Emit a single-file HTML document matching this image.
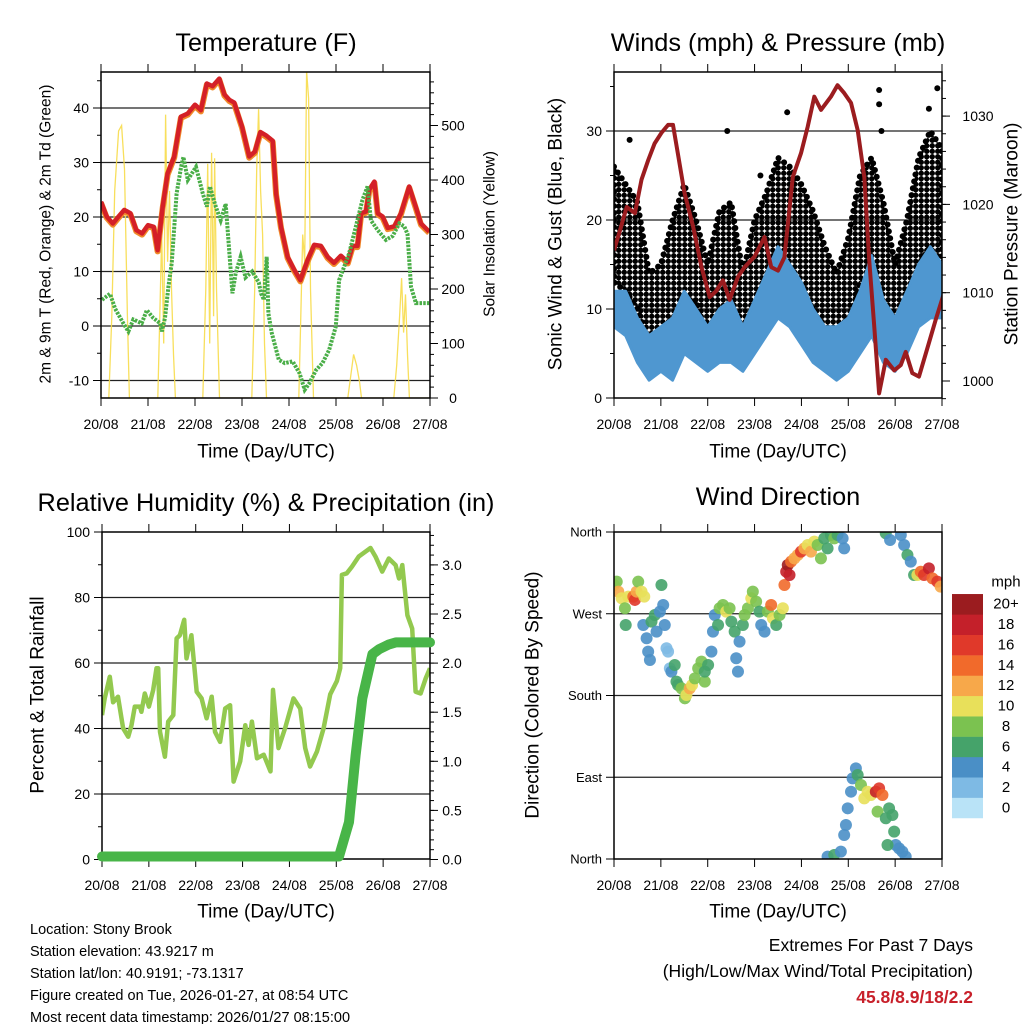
<!DOCTYPE html>
<html><head><meta charset="utf-8">
<style>
html,body{margin:0;padding:0;background:#fff;}
svg{display:block;font-family:"Liberation Sans",Arial,sans-serif;}
</style></head>
<body>
<svg id="chart" width="1024" height="1024" viewBox="0 0 1024 1024" xmlns="http://www.w3.org/2000/svg">
<defs>
<pattern id="dots" width="5.5" height="5.5" patternUnits="userSpaceOnUse">
<circle cx="2.75" cy="2.75" r="2.7" fill="#000"/>
</pattern>
</defs>
<g id="g"></g>
</svg>
<script>
// ---------- shared axis data ----------
const dayLabels = ["20/08","21/08","22/08","23/08","24/08","25/08","26/08","27/08"];
const dayHours = [0,24,48,72,96,120,144,168];

// ---------- Temperature panel ----------
const tempHours = [0,2.9,6,9,11.9,15,18,21,24,26.9,28.9,31.5,34,37.4,40.8,44.3,48,51,54,57,60.4,63,65.5,68,72,75.7,78.6,81.4,84.2,87.7,89.4,91.9,95.3,98.7,101.8,105.5,108.9,112.3,115.7,119,122.5,126,128.5,131,132.8,135.3,137,139.6,141.3,143.8,146.4,149.8,153.2,157.4,160.8,163.4,167.6];
const tempF = [22.8,20.1,18.8,20.1,21.3,20.7,17.6,17.0,18.5,18.2,13.9,21.9,28.0,31.1,38.4,39.0,40.6,39.6,44.5,44.0,45.4,42.5,41.5,41,36.6,31.1,32,35.6,35,34,24.3,18.2,12.7,10.3,8.4,12.1,14.9,14.7,12.7,11.6,12.9,11.7,14.7,14.7,20.7,21,25.0,26.5,20.7,20.1,18.0,18.3,20.7,25.6,21.8,18.8,17.3];
const dewHours = [0.5,4.6,7.2,11.4,14,16.5,20.8,23.4,26.6,30.2,31.1,32.7,34.4,36.1,38.6,40.9,42.1,44.3,48.5,52,54.1,55.6,58.5,61.1,63.7,67.1,68.8,71.3,73.8,77.2,80.6,81.7,83.2,84.6,85.5,87.2,90.8,93.8,97.9,101.4,104,106.4,109.8,113.1,116.5,119.9,121.6,124.2,126.7,130.1,133.5,136.1,137.8,141.3,145.5,148.9,152.3,154.8,156.5,158.3,160.8,167.6];
const dewF = [4.8,5.9,3.2,0.5,-1.0,1.2,0.5,2.9,1.5,0.5,-1.0,1.5,7.2,11.5,24.3,29.2,31.0,26.8,29.2,24.3,21.9,25.6,22.0,19.4,22.4,6.0,9.7,12.7,8.9,10,8.0,6.0,4.8,12.7,2.3,-1.3,-6.2,-6.8,-6.5,-8.7,-11.7,-10.5,-8.1,-6.8,-4.4,-0.1,8.4,10.9,13.3,18.2,23.1,25.6,19.4,17.6,15.8,16.5,18.8,18.3,16.9,7.2,4.2,4.2];
const solarHours = [0,4,5.5,7,9,10.5,12,13.5,14.5,29,30,31,32,33,34,35,36,37,38,52,53.5,54.5,55.5,56.5,57.5,58,59,60.5,77,78.5,79.5,80.5,81.5,82.5,83.5,84.5,101,102,103,104,105,106,107,108.5,126,127.5,129,130.5,132,133,149.5,151,152.5,153.5,154.5,155.5,156.5,157.5,168];
const solarW = [0,0,150,380,490,500,420,150,0,0,150,300,100,520,250,380,200,80,0,0,200,430,100,450,150,440,200,0,0,200,420,530,380,300,100,0,0,150,300,250,600,550,200,0,0,40,80,60,30,0,0,60,150,220,120,190,80,0,0];

// ---------- Winds panel ----------
const presHours = [0,3.1,6.5,10.7,14.1,17.5,20.8,24.3,27.7,30.2,32.7,36.1,40.5,44.8,49,52.4,55.8,59.2,63.5,66.9,72,77.1,80.5,84,87.3,91.6,95.8,99.2,102.6,106,111.1,114.5,117.9,121.4,124.8,128.2,130.7,133.3,135.8,139.2,143.5,146.9,149.4,152.8,156.2,161.3];
const presMb = [1014.8,1017.1,1019.7,1019,1022.8,1025,1026.9,1028.1,1029,1029,1025.8,1021.3,1017.5,1012.9,1009.5,1010.2,1011.4,1009.2,1011.8,1012.9,1014.1,1016.3,1012.9,1012.5,1014,1023.1,1025.8,1028.8,1032.2,1030.7,1032.2,1033.5,1032.6,1031.5,1028.4,1023.1,1013.7,1006.1,998.6,1002.4,1001.2,1001.8,1003.3,1000.9,1000.5,1004.3];
const presHours2 = [164.7,169.8];
const presMb2 = [1006.9,1010.5];
const windHours = [0,6,12,18,24,30,36,42,48,54,60,66,72,78,84,90,96,102,108,114,120,126,132,138,144,150,156,162,168];
const windLo = [8,7,4,2,3,2,5,4,3,4,4,3,5,7,9,8,6,4,3,2,3,5,7,4,3,5,8,9,9];
const windHi = [12,12,9,7,8,9,12,10,8,10,11,8,11,14,17,15,13,10,8,8,9,12,16,11,9,12,15,17,15];
const gustLo = [13,12,10,6,4,5,10,11,6,8,9,5,9,10,13,14,12,10,6,4,8,13,14,10,6,8,15,17,14];
const gustHi = [26,24,22,14,15,20,24,20,15,21,22,14,20,23,27,26,24,21,17,14,18,25,27,22,15,20,27,30,28];
const gustOutHours = [135.8,135.8,137,58,88.7,165.6,161.3,8,75];
const gustOutMph = [34.6,33.0,30,30,32.1,34.8,32.5,29,25];

// ---------- RH / precip panel ----------
const rhHours = [0,1.4,4.0,5.7,8.2,10.8,13.4,15.1,16.8,19.4,20.2,21.9,24.0,26.2,27.9,28.8,29.7,32.2,33.9,36.5,38.2,39.9,42.1,43.3,45.8,48.5,51,53.6,56.2,57.9,60.5,63.1,65.6,67.4,70.8,73.4,75.1,76.8,79.4,82.8,86.3,87.6,90.4,93.8,98.1,101.5,104.1,106.6,110.1,113.5,116.9,120.3,122.0,122.9,125.4,128,131.5,134.9,137.5,140.1,143.5,146.9,150.4,152.1,153.8,156.4,158.9,160.6,163.2,165.8,168];
const rhPct = [44.1,49.2,55.8,48,49.7,40.1,37.5,41,46.7,46.7,45.1,50.7,46.7,51.8,58.4,58.4,39,31.4,42.1,44.1,67.5,68.5,73.2,61.4,68.5,51.2,49.2,43.1,49.7,39,35.9,46.1,47.1,23.8,30,41,35,42.1,30.9,32,26.9,51.8,34,40.1,49.2,46.1,34,28.4,33,40.1,50.4,54.5,58.4,86.9,87.4,89.4,92.5,94,95.1,92.5,87.9,91.9,89.9,85.8,89.9,74.6,70.5,51.2,50.7,55.3,58.4];
const precipHours = [0,121.4,126.5,129.9,133.3,138.5,141.9,147,150.5,168];
const precipIn = [0,0,0.35,1.03,1.61,2.06,2.11,2.16,2.18,2.18];

// ---------- Wind direction panel ----------
const dirHours = [0,1.4,2.2,3.9,5.6,6.0,7.3,9.9,10.7,11.6,12.4,14.1,15.5,15.0,16.7,17.5,18.4,19.2,20.9,21.8,23.5,24.3,25.2,26.0,26.9,27.7,28.6,29.4,31.1,32.0,32.8,34.6,36.3,37.1,38.8,40.0,41.4,43.1,44.8,46.5,46.5,48.2,49.9,50.7,51.6,53.3,54.1,55.8,57.5,59.2,60.1,61.8,62.6,63.5,64.3,66.0,66.9,68.6,70.3,71.1,72.8,74.5,75.4,77.1,78.8,80.5,81.4,83.1,84.8,86.5,87.3,88.2,89.0,89.9,90.7,92.4,94.1,95.8,97.5,99.2,100.9,102.6,104.3,106.0,107.7,109.4,111.1,112.8,114.5,117.1,117.9,139.2,141.4,146.9,148.6,150.3,152.0,153.7,155.4,157.1,158.8,161.3,163.1,165.6,167.3,109.4,112.8,116.2,117.9,118.8,119.7,121.4,122.2,123.9,124.8,126.5,128.2,129.9,131.6,134.1,135.8,137.5,135.0,139.2,140.9,142.6,143.5,144.3,146.0,147.7,149.4,140.1];
const dirDeg = [301.7,305.3,294.3,287,276,257.6,288.8,288.8,285.2,294.3,305.3,294.3,288.8,257.6,243,228.3,219.1,261.3,268.6,250.3,272.3,301.7,279.7,257.6,232,228.3,209.9,206.3,213.6,195.3,191.6,187.9,176.9,180.6,187.9,191.6,198.9,209.9,217.3,195.3,206.3,213.6,228.3,250.3,268.6,257.6,276,279.7,272.3,276,261.3,250.3,221,206.3,239.3,257.6,268.6,276,287,294.3,283.3,272.3,257.6,250.3,272.3,279.7,265,257.6,268.6,276,301.7,316.3,323.7,312.7,327.4,331,334.7,338.4,342,345.7,338.4,349.4,345.7,331,353,342,356.7,353,356.7,353,342,358.6,351.2,356.7,345.7,334.7,327.4,312.7,312.7,316.3,312.7,320,309,305.3,299.8,2.6,4.4,8.1,26.4,37.4,55.8,74.1,88.8,99.8,92.5,81.5,66.8,74.1,70.5,74.1,77.8,70.5,52.1,44.8,55.8,48.4,30.1,15.4,11.7,8.1,2.6,15.4];
const dirSpeed = [10,8,12,10,8,6,10,14,16,12,8,10,10,4,4,4,4,6,6,4,4,6,4,4,2,2,2,4,6,6,6,8,8,10,12,10,8,8,8,8,6,6,4,4,4,6,8,8,10,8,6,6,4,4,4,6,8,8,10,8,8,6,4,4,8,14,10,6,8,10,14,18,20,18,14,12,12,16,12,10,12,10,8,8,6,6,6,8,6,4,4,6,4,4,4,6,4,6,10,14,16,18,14,16,12,4,6,4,4,4,4,4,4,4,6,8,10,10,10,18,16,14,8,6,6,6,6,4,4,4,4,6];
const speedLabels = ["0","2","4","6","8","10","12","14","16","18","20+"];
const speedColors = ["#b9e3f7","#7ebae4","#4a8fc6","#45a36a","#7bc250","#e8e05a","#f7a84a","#f16a2b","#e0392a","#c4202a","#9b1c1f"];

// ---------- helpers ----------
const NS = "http://www.w3.org/2000/svg";
const root = document.getElementById("g");
function mk(tag, attrs, parent) {
  const e = document.createElementNS(NS, tag);
  for (const k in attrs) e.setAttribute(k, attrs[k]);
  (parent || root).appendChild(e);
  return e;
}
function txt(s, x, y, size, anchor, parent, extra) {
  const a = {x:x, y:y, "font-size":size, "text-anchor":anchor||"middle", fill:"#000", "dominant-baseline":"central"};
  if (extra) for (const k in extra) a[k] = extra[k];
  const t = mk("text", a, parent);
  t.textContent = s;
  return t;
}
function lin(d0, d1, r0, r1) { return v => r0 + (v - d0) / (d1 - d0) * (r1 - r0); }
function pathFrom(xs, ys, sx, sy) {
  let d = "";
  for (let i = 0; i < xs.length; i++) d += (i ? "L" : "M") + sx(xs[i]).toFixed(1) + "," + sy(ys[i]).toFixed(1);
  return d;
}

function panel(name, P, sx, syL, left, syR, right) {
  const g = mk("g", {});
  
  
  const clipId = name + "-clip";
  const cp = mk("clipPath", {id: clipId}, g);
  mk("rect", {x:P.x0, y:P.y0, width:P.x1-P.x0, height:P.y1-P.y0}, cp);
  for (const v of left.grid) {
    const gl = mk("line", {x1:P.x0, x2:P.x1, y1:syL(v), y2:syL(v), stroke:"#222", "stroke-width":1.2}, g);
    
    
  }
  const plot = mk("g", {"clip-path":"url(#" + clipId + ")"}, g);
  
  
  for (const v of left.minor) mk("line", {x1:P.x0-4, x2:P.x0, y1:syL(v), y2:syL(v), stroke:"#000"}, g);
  for (let i = 0; i < left.major.length; i++) {
    const y = syL(left.major[i]);
    mk("line", {x1:P.x0-8, x2:P.x0, y1:y, y2:y, stroke:"#000"}, g);
    const t = txt(left.labels[i], P.x0 - 12, y, left.size || 14, "end", g);
    
    
  }
  if (right) {
    for (const v of right.minor) mk("line", {x1:P.x1, x2:P.x1+4, y1:syR(v), y2:syR(v), stroke:"#000"}, g);
    for (let i = 0; i < right.major.length; i++) {
      const y = syR(right.major[i]);
      mk("line", {x1:P.x1, x2:P.x1+8, y1:y, y2:y, stroke:"#000"}, g);
      const t = txt(right.labels[i], right.lx, y, 14, "middle", g);
      
      
    }
  }
  for (let i = 0; i < dayHours.length; i++) {
    const x = sx(dayHours[i]);
    mk("line", {x1:x, x2:x, y1:P.y0-8, y2:P.y0, stroke:"#000"}, g);
    mk("line", {x1:x, x2:x, y1:P.y1, y2:P.y1+8, stroke:"#000"}, g);
    const t = txt(dayLabels[i], x, P.y1 + 26, 14, "middle", g);
    
    
  }
  const fr = mk("rect", {x:P.x0, y:P.y0, width:P.x1-P.x0, height:P.y1-P.y0, fill:"none", stroke:"#000", "stroke-width":1.5}, g);
  
  
  return plot;
}
function range(a, b, s) { const r = []; for (let v = a; v <= b + 1e-9; v += s) r.push(+v.toFixed(3)); return r; }

// ================= Panel 1: Temperature =================
{
  const P = {x0:101, x1:430, y0:72, y1:398};
  const sx = lin(0, 168, P.x0, P.x1);
  const sy = lin(0, 10, 326, 271.5);
  const syR = lin(0, 100, 398, 343.5);
  const plot = panel("temperature-panel", P, sx, sy,
    {major:[-10,0,10,20,30,40], labels:["-10","0","10","20","30","40"], minor:range(-10,45,5), grid:[-10,0,10,20,30,40]},
    syR, {major:[0,100,200,300,400,500], labels:["0","100","200","300","400","500"], minor:range(0,580,20), lx:453});
  const sol = mk("path", {d:pathFrom(solarHours, solarW, sx, syR), fill:"none", stroke:"#f7dc4a", "stroke-width":1.3, opacity:0.9}, plot);
  
  
  const t9 = mk("path", {d:pathFrom(tempHours, tempF, sx, sy), fill:"none", stroke:"#f08a2a", "stroke-width":6, "stroke-linejoin":"round", transform:"translate(0,1.2)"}, plot);
  
  
  const t2 = mk("path", {d:pathFrom(tempHours, tempF, sx, sy), fill:"none", stroke:"#d42027", "stroke-width":4.5, "stroke-linejoin":"round"}, plot);
  
  
  const td = mk("path", {d:pathFrom(dewHours, dewF, sx, sy), fill:"none", stroke:"#4aae48", "stroke-width":4, "stroke-dasharray":"2.5 1.2"}, plot);
  
  
  let t = txt("Temperature (F)", 266, 43, 25.3);
  
  
  t = txt("Time (Day/UTC)", 266, 452, 19);
  
  
  t = txt("2m & 9m T (Red, Orange) & 2m Td (Green)", 0, 0, 15.5, "middle", null, {transform:"translate(46,234) rotate(-90)"});
  
  
  t = txt("Solar Insolation (Yellow)", 0, 0, 15.5, "middle", null, {transform:"translate(490,234) rotate(-90)"});
  
  
}

// ================= Panel 2: Winds & Pressure =================
{
  const P = {x0:614, x1:942, y0:72, y1:398};
  const sx = lin(0, 168, P.x0, P.x1);
  const sy = lin(0, 10, 398, 309);
  const syR = lin(1000, 1010, 381, 292.7);
  const plot = panel("winds-panel", P, sx, sy,
    {major:[0,10,20,30], labels:["0","10","20","30"], minor:range(0,35,5), grid:[10,20,30]},
    syR, {major:[1000,1010,1020,1030], labels:["1000","1010","1020","1030"], minor:range(998,1034,2), lx:978});
  let d = pathFrom(windHours, gustHi, sx, sy);
  for (let i = windHours.length - 1; i >= 0; i--) d += "L" + sx(windHours[i]).toFixed(1) + "," + sy(gustLo[i]).toFixed(1);
  const gb = mk("path", {d:d + "Z", fill:"url(#dots)", stroke:"#000", "stroke-width":6, "stroke-dasharray":"0 7", "stroke-linecap":"round"}, plot);
  
  
  for (let i = 0; i < gustOutHours.length; i++) {
    const c = mk("circle", {cx:sx(gustOutHours[i]), cy:sy(gustOutMph[i]), r:3, fill:"#000"}, plot);
    
    
  }
  d = pathFrom(windHours, windHi, sx, sy);
  for (let i = windHours.length - 1; i >= 0; i--) d += "L" + sx(windHours[i]).toFixed(1) + "," + sy(windLo[i]).toFixed(1);
  const wb = mk("path", {d:d + "Z", fill:"#4f97d0", stroke:"#4f97d0", "stroke-width":3, "stroke-linejoin":"round"}, plot);
  
  
  const pr = mk("path", {d:pathFrom(presHours.concat(presHours2), presMb.concat(presMb2), sx, syR), fill:"none", stroke:"#9b1c1f", "stroke-width":4, "stroke-linejoin":"round"}, plot);
  
  
  let t = txt("Winds (mph) & Pressure (mb)", 778, 43, 25.3);
  
  
  t = txt("Time (Day/UTC)", 778, 452, 19);
  
  
  t = txt("Sonic Wind & Gust (Blue, Black)", 0, 0, 19, "middle", null, {transform:"translate(556,234) rotate(-90)"});
  
  
  t = txt("Station Pressure (Maroon)", 0, 0, 19, "middle", null, {transform:"translate(1012,234) rotate(-90)"});
  
  
}

// ================= Panel 3: RH & Precip =================
{
  const P = {x0:102, x1:430, y0:532, y1:859};
  const sx = lin(0, 168, P.x0, P.x1);
  const sy = lin(0, 100, 859.5, 532);
  const syR = lin(0, 1, 859.5, 761.3);
  const plot = panel("humidity-panel", P, sx, sy,
    {major:[0,20,40,60,80,100], labels:["0","20","40","60","80","100"], minor:range(0,100,10), grid:[20,40,60,80]},
    syR, {major:[0,0.5,1,1.5,2,2.5,3], labels:["0.0","0.5","1.0","1.5","2.0","2.5","3.0"], minor:range(0,3.3,0.1), lx:452});
  const rh = mk("path", {d:pathFrom(rhHours, rhPct, sx, sy), fill:"none", stroke:"#93c94f", "stroke-width":4.5, "stroke-linejoin":"round"}, plot);
  
  
  const pc = mk("path", {d:pathFrom(precipHours, precipIn, sx, syR), fill:"none", stroke:"#48b548", "stroke-width":10, "stroke-linejoin":"round", "stroke-linecap":"round", transform:"translate(0,-3)"}, mk("g", {}));
  
  
  let t = txt("Relative Humidity (%) & Precipitation (in)", 266, 503, 25.3);
  
  
  t = txt("Time (Day/UTC)", 266, 912, 19);
  
  
  t = txt("Percent & Total Rainfall", 0, 0, 19, "middle", null, {transform:"translate(38,695) rotate(-90)"});
  
  
}

// ================= Panel 4: Wind Direction =================
{
  const P = {x0:614, x1:942, y0:532, y1:859};
  const sx = lin(0, 168, P.x0, P.x1);
  const sy = lin(0, 360, 859, 532);
  const plot = panel("wind-direction-panel", P, sx, sy,
    {major:[0,90,180,270,360], labels:["North","East","South","West","North"], minor:[], grid:[90,180,270], size:13},
    null, null);
  for (let i = 0; i < dirHours.length; i++) {
    const bin = Math.min(10, Math.round(dirSpeed[i] / 2));
    const c = mk("circle", {cx:sx(dirHours[i]), cy:sy(dirDeg[i]), r:6, fill:speedColors[bin], opacity:0.9}, plot);
    
    
  }
  const cb = mk("g", {});
  
  
  for (let i = 0; i < speedColors.length; i++) {
    const y = 818 - (i + 1) * 20.36;
    const r = mk("rect", {x:952, y:y, width:31, height:20.6, fill:speedColors[i]}, cb);
    
    
    const t = txt(speedLabels[i], 1006, y + 10.2, 15, "middle", cb);
    
    
  }
  let t = txt("mph", 1006, 582, 15, "middle", cb);
  
  
  t = txt("Wind Direction", 778, 497, 25.3);
  
  
  t = txt("Time (Day/UTC)", 778, 912, 19);
  
  
  t = txt("Direction (Colored By Speed)", 0, 0, 19, "middle", null, {transform:"translate(533,695) rotate(-90)"});
  
  
}

// ================= Footer text =================
{
  const info = ["Location: Stony Brook","Station elevation: 43.9217 m","Station lat/lon: 40.9191; -73.1317","Figure created on Tue, 2026-01-27, at 08:54 UTC","Most recent data timestamp: 2026/01/27 08:15:00"];
  for (let i = 0; i < info.length; i++) {
    const t = txt(info[i], 30, 930 + i * 22, 14.5, "start");
    
    
  }
  let t = txt("Extremes For Past 7 Days", 973, 945, 17.5, "end");
  
  
  t = txt("(High/Low/Max Wind/Total Precipitation)", 973, 971, 17.5, "end");
  
  
  t = txt("45.8/8.9/18/2.2", 973, 997, 17.5, "end", null, {fill:"#c8202a", "font-weight":"bold"});
  
  
}
</script>
</body></html>
